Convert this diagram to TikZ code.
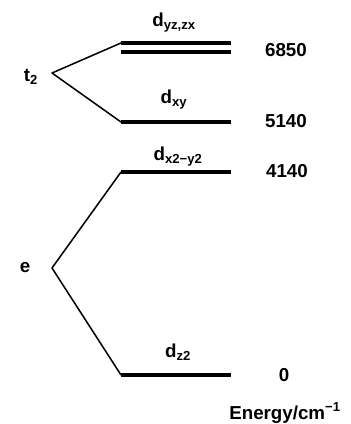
\documentclass[tikz,border=0pt]{standalone}
\usepackage{fontspec}
\setmainfont{Liberation Sans}
\usetikzlibrary{positioning}
\tikzset{
  level/.style={line width=2.7pt},
  split/.style={line width=1.3pt, line join=round},
  lbl/.style={font=\bfseries\fontsize{16}{18}\selectfont, inner sep=1pt},
}
\begin{document}
\begin{tikzpicture}[x=0.03cm, y=-0.03cm]
    \useasboundingbox (0,0) rectangle (350,424);

    % Vertices of the splitting
    \coordinate (T2) at (52,73);
    \coordinate (E) at (52,268);
    \node[lbl] (t2lbl) at (31,77) {t\textsubscript{2}};
    \node[lbl] (elbl) at (25,268) {e};

    % Energy levels
    \foreach \name/\y in {yza/43, yzb/52, xy/122, xxyy/172, zz/375} {
        \coordinate (\name L) at (121,\y);
        \coordinate (\name R) at (231,\y);
        \draw[level] (\name L) -- (\name R);
    }

    % Splitting lines
    \draw[split] (yzaL) -- (T2) -- (xyL);
    \draw[split] (xxyyL) -- (E) -- (zzL);

    % Orbital labels
    \node[lbl] (dyz) at (174,23) {d\textsubscript{yz,zx}};
    \node[lbl] (dxy) at (174,100) {d\textsubscript{xy}};
    \node[lbl] (dxxyy) at (178,157) {d\textsubscript{x2−y2}};
    \node[lbl] (dzz) at (178,352) {d\textsubscript{z2}};

    % Energies
    \node[lbl] (e6850) at (286,50) {6850};
    \node[lbl] (e5140) at (286,121) {5140};
    \node[lbl] (e4140) at (287,171) {4140};
    \node[lbl] (e0) at (284,375) {0};
    \node[lbl] (unit) at (285,413) {Energy/cm\textsuperscript{−1}};
\end{tikzpicture}
\end{document}
